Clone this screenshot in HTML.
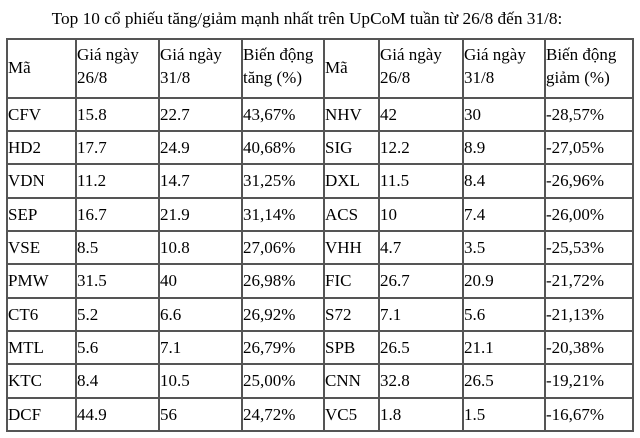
<!DOCTYPE html><html><head><meta charset="utf-8"><style>
body{margin:0;width:640px;height:438px;background:#fff;position:relative;overflow:hidden;font-family:"Liberation Serif",serif;font-size:17px;color:#000}
.v{position:absolute;top:38px;height:393px;width:2px;background:#555}
.h{position:absolute;left:6px;width:628px;height:2px;background:#555}
.t{position:absolute;line-height:22px;white-space:nowrap}
</style></head><body>
<div class="t" style="left:0;width:614px;text-align:center;top:8px;font-size:17.3px">Top 10 cổ phiếu tăng/giảm mạnh nhất trên UpCoM tuần từ 26/8 đến 31/8:</div>
<div id="g"></div>
<script>
var xs=[6,75,158,241,323,378,462,544,632],ys=[38,97,130,163,197,230,263,297,330,363,397,430],h='';
xs.forEach(function(x){h+='<div class="v" style="left:'+x+'px"></div>'});
ys.forEach(function(y){h+='<div class="h" style="top:'+y+'px"></div>'});
var hd=[['Mã'],['Giá ngày','26/8'],['Giá ngày','31/8'],['Biến động','tăng (%)'],['Mã'],['Giá ngày','26/8'],['Giá ngày','31/8'],['Biến động','giảm (%)']];
hd.forEach(function(c,i){if(c.length==1)h+='<div class="t" style="left:'+(xs[i]+2)+'px;top:57px">'+c[0]+'</div>';else h+='<div class="t" style="left:'+(xs[i]+2)+'px;top:44px">'+c[0]+'</div><div class="t" style="left:'+(xs[i]+2)+'px;top:67px">'+c[1]+'</div>'});
var d=[["CFV","15.8","22.7","43,67%","NHV","42","30","-28,57%"],["HD2","17.7","24.9","40,68%","SIG","12.2","8.9","-27,05%"],["VDN","11.2","14.7","31,25%","DXL","11.5","8.4","-26,96%"],["SEP","16.7","21.9","31,14%","ACS","10","7.4","-26,00%"],["VSE","8.5","10.8","27,06%","VHH","4.7","3.5","-25,53%"],["PMW","31.5","40","26,98%","FIC","26.7","20.9","-21,72%"],["CT6","5.2","6.6","26,92%","S72","7.1","5.6","-21,13%"],["MTL","5.6","7.1","26,79%","SPB","26.5","21.1","-20,38%"],["KTC","8.4","10.5","25,00%","CNN","32.8","26.5","-19,21%"],["DCF","44.9","56","24,72%","VC5","1.8","1.5","-16,67%"]];
d.forEach(function(r,j){var y=(ys[j+1]+ys[j+2])/2-10;r.forEach(function(c,i){h+='<div class="t" style="left:'+(xs[i]+2)+'px;top:'+y+'px">'+c+'</div>'})});
document.getElementById('g').innerHTML=h;
</script>
</body></html>
